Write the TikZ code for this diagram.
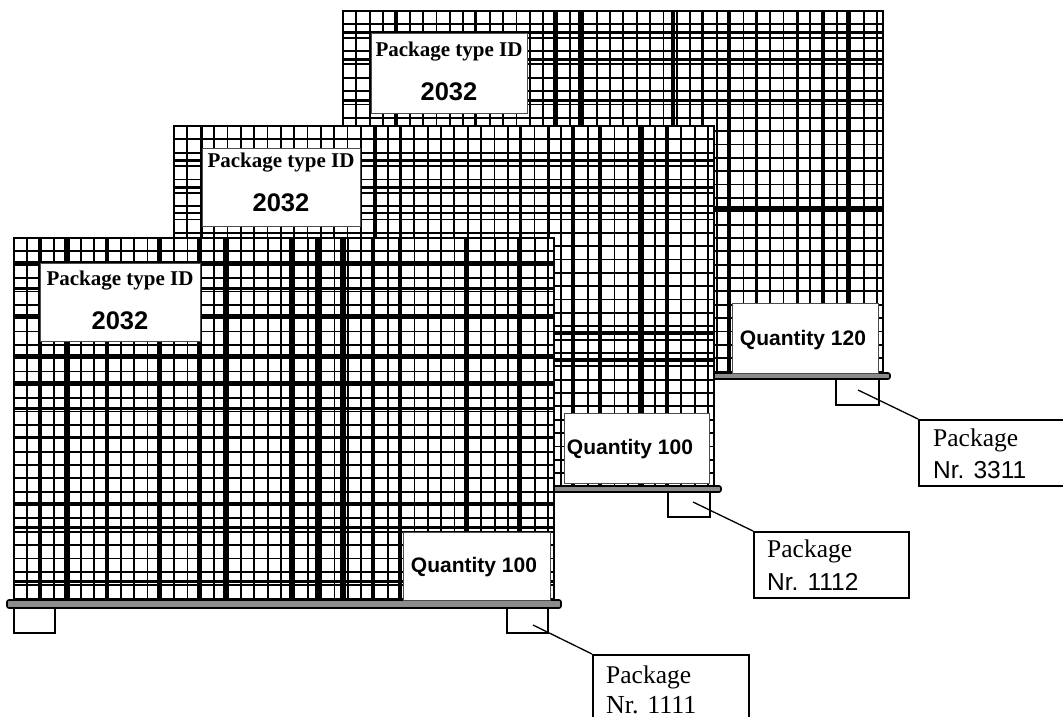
\documentclass[tikz,border=0pt]{standalone}
\usepackage{fontspec}
\setmainfont{Liberation Serif}
\setsansfont{Liberation Sans}
\tikzset{
  meshline/.style={line width=1.8pt,black},
  cageframe/.style={line width=2.6pt,black},
  palletbar/.style={draw=black,line width=1.6pt,fill=black!45,rounded corners=2pt},
  foot/.style={draw=black,line width=2pt,fill=white,rectangle,inner sep=0pt},
  labelbox/.style={draw=black!70,line width=1pt,fill=white,rectangle,inner sep=0pt,anchor=north west},
  pkbox/.style={draw=black,line width=2pt,fill=white,rectangle,inner sep=0pt,anchor=north west},
  leader/.style={line width=1.3pt,black},
  idtext/.style={font=\bfseries\fontsize{21}{24}\selectfont,inner sep=0pt},
  numtext/.style={font=\sffamily\bfseries\fontsize{25.5}{28}\selectfont,inner sep=0pt},
  qtytext/.style={font=\sffamily\bfseries\fontsize{21}{24}\selectfont,inner sep=0pt},
  pktext/.style={font=\fontsize{25.5}{28}\selectfont,inner sep=0pt,anchor=west},
  nrtext/.style={font=\sffamily\fontsize{24.5}{28}\selectfont,inner sep=0pt,anchor=west},
  nrserif/.style={font=\fontsize{26}{28}\selectfont,inner sep=0pt,anchor=west}
}
\newcommand{\cagegrid}[6]{%
  \fill[white] (#1,#2) rectangle (#3,#4);
  \begin{scope}
    \clip (#1,#2) rectangle (#3,#4);
    \foreach \k in {0,...,41} \draw[meshline] ({#1+\k*13.35},#2) -- ({#1+\k*13.35},#4);
    \foreach \k in {0,...,28} \draw[meshline] (#1,{#2+\k*13.35}) -- (#3,{#2+\k*13.35});
    \foreach \p/\w in {#5} \draw[line width=\w pt] (\p,#2) -- (\p,#4);
    \foreach \p/\w in {#6} \draw[line width=\w pt] (#1,\p) -- (#3,\p);
  \end{scope}
  \draw[cageframe] (#1,#2) rectangle (#3,#4);
}
\begin{document}
\begin{tikzpicture}[x=1pt,y=-1pt]
\fill[white] (0,0) rectangle (1063,717);
\useasboundingbox (0,0) rectangle (1063,717);

% ---------- cage 3 (back) ----------
\cagegrid{343}{11}{883}{373}{396/3.5,475/2.5,555/3.5,580/3.5,673/4.5,702/3,728/3,756/3,797/3,822/3,848/3.5}{33/3,60/3,100/3,208/4.5}
\draw[palletbar] (336,373) rectangle (890,379);
\node[foot,minimum width=41pt,minimum height=26pt] (f3l) at (363.5,392) {};
\node[foot,minimum width=43pt,minimum height=26pt] (f3r) at (857.5,392) {};
\node[labelbox,minimum width=156pt,minimum height=80pt] (id3) at (371,33) {};
\node[idtext] (id3a) at (449,52) {Package type ID};
\node[numtext] (id3b) at (449,92) {2032};
\node[labelbox,minimum width=146pt,minimum height=70pt] (q3) at (732,303) {};
\node[qtytext] (q3t) at (803,340) {Quantity 120};

% ---------- cage 2 (middle) ----------
\cagegrid{174}{126}{714}{486}{202/2.5,375/3,400/3,520/3,548/3,573/4.5,600/4.5,641/5.5,667/4.5}{160/3,187/3,213/2.5,333/4.5,360/4.5}
\draw[palletbar] (167,486) rectangle (721,492);
\node[foot,minimum width=41pt,minimum height=25pt] (f2l) at (194.5,504.5) {};
\node[foot,minimum width=42pt,minimum height=25pt] (f2r) at (689,504.5) {};
\node[labelbox,minimum width=158pt,minimum height=78pt] (id2) at (202,148) {};
\node[idtext] (id2a) at (281,163) {Package type ID};
\node[numtext] (id2b) at (281,203) {2032};
\node[labelbox,minimum width=145pt,minimum height=70pt] (q2) at (564,413) {};
\node[qtytext] (q2t) at (630,449) {Quantity 100};

% ---------- cage 1 (front) ----------
\cagegrid{14}{238}{554}{600}{40/3.5,67/5.5,107/4,159/4,199/4,225/4,291/4,318/5.5,343/5.5,373/3.5,400/3.5,465/3,518/3}{262/3,288/3,315/3,355/3,382/3,408/3,437/3,503/3,527/3,581/3}
\draw[palletbar] (7,600) rectangle (561,608);
\node[foot,minimum width=41pt,minimum height=25pt] (f1l) at (34.5,620.5) {};
\node[foot,minimum width=41pt,minimum height=25pt] (f1r) at (527.5,620.5) {};
\node[labelbox,minimum width=160pt,minimum height=78pt] (id1) at (40,263) {};
\node[idtext] (id1a) at (120,281) {Package type ID};
\node[numtext] (id1b) at (120,321) {2032};
\node[labelbox,minimum width=147pt,minimum height=68pt] (q1) at (403,532) {};
\node[qtytext] (q1t) at (474,567) {Quantity 100};

% ---------- package labels ----------
\node[pkbox,minimum width=156pt,minimum height=80pt] (pk1) at (592,654) {};
\node[pktext] (pk1a) at (606,677) {Package};
\node[nrserif] (pk1b) at (606,705) {Nr. 1111};
\coordinate (p1) at (533,625);
\draw[leader] (p1) -- (pk1.north west);

\node[pkbox,minimum width=155pt,minimum height=66pt] (pk2) at (753,531) {};
\node[pktext] (pk2a) at (767,551) {Package};
\node[nrtext] (pk2b) at (767,582) {Nr. 1112};
\coordinate (p2) at (693,502);
\draw[leader] (p2) -- (pk2.north west);

\node[pkbox,minimum width=145pt,minimum height=66pt] (pk3) at (918,419) {};
\node[pktext] (pk3a) at (933,440) {Package};
\node[nrtext] (pk3b) at (933,470) {Nr. 3311};
\coordinate (p3) at (858,390);
\draw[leader] (p3) -- (pk3.north west);
\end{tikzpicture}
\end{document}
